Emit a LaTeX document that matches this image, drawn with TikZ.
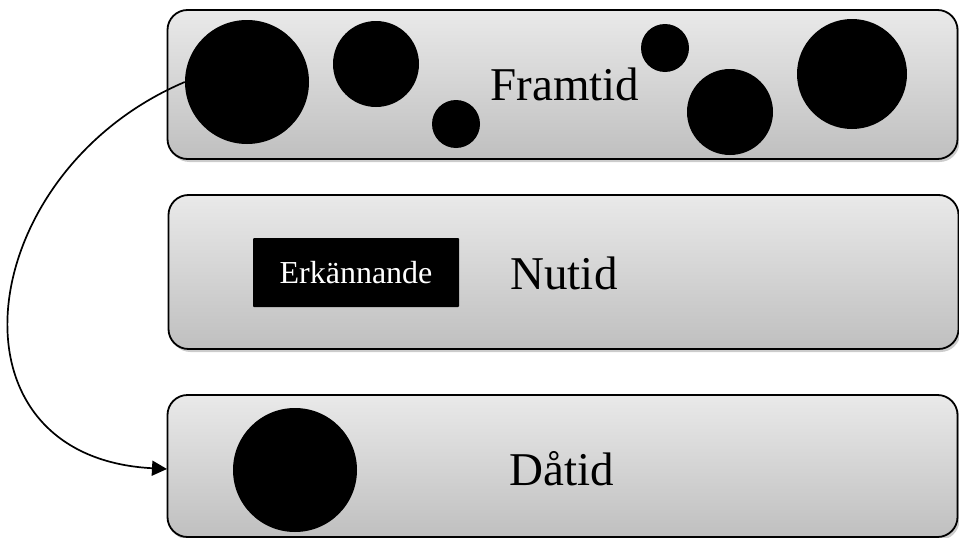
\documentclass[tikz,border=0pt]{standalone}
\usepackage{fontspec}
\setmainfont{Liberation Serif}
\usetikzlibrary{arrows.meta,shadows}
\begin{document}
\begin{tikzpicture}[x=1pt,y=-1pt,
  band/.style={draw=black,line width=1.8pt,rounded corners=20pt,
    top color=gray!17,bottom color=gray!50,
    drop shadow={shadow xshift=2pt,shadow yshift=-3pt,opacity=0.4},
    minimum width=790pt,inner sep=0pt},
  dot/.style={circle,fill=black,inner sep=0pt,minimum size=#1},
  label/.style={font=\fontsize{47}{50}\selectfont,anchor=base,inner sep=0pt},
  tag/.style={fill=black,text=white,rounded corners=1pt,minimum width=206pt,minimum height=69pt,
    font=\fontsize{32}{34}\selectfont,inner sep=0pt}
]
\useasboundingbox (0,0) rectangle (959,538);
% bands
\node[band,minimum height=149pt] (fut) at (562.5,84.5) {};
\node[band,minimum height=154pt] (now) at (563.5,272) {};
\node[band,minimum height=142pt] (past) at (562.5,466) {};
% circles in Framtid
\node[dot=124pt] (c1) at (247,82) {};
\node[dot=86pt] (c2) at (376,64) {};
\node[dot=48pt] (c3) at (456,124) {};
\node[dot=48pt] (c4) at (665,48) {};
\node[dot=86pt] (c5) at (730,112) {};
\node[dot=110pt] (c6) at (852,74) {};
% labels
\node[label] (tfut) at (565,100) {Framtid};
\node[label] (tnow) at (564,289) {Nutid};
\node[label] (tpast) at (562,485) {Dåtid};
% Erkännande
\node[tag] (erk) at (356,272.5) {Erkännande};
% Dåtid circle
\node[dot=124pt] (d1) at (295,470) {};
% arrow
\coordinate (tip) at (167,469);
\draw[line width=1.7pt,-{Triangle[length=15pt,width=15pt]}]
  (c1.west) .. controls (-27,172) and (-63,457) .. (tip);
\end{tikzpicture}
\end{document}
